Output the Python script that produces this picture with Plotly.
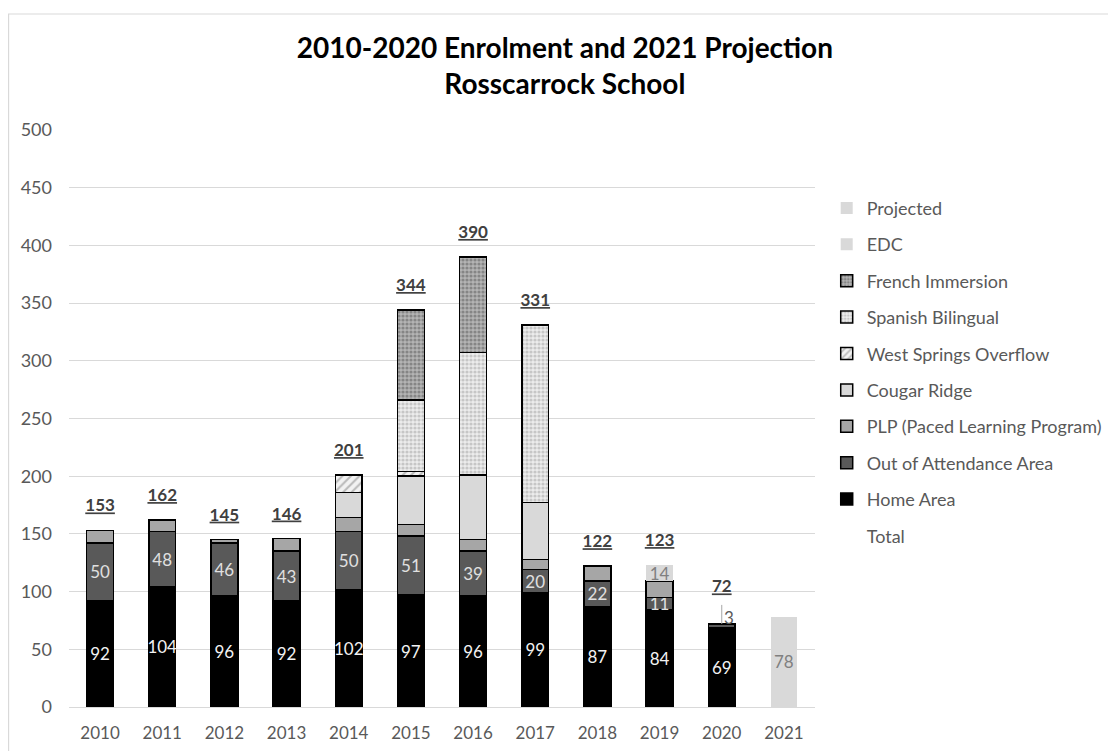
import plotly.graph_objects as go

years = [2010, 2011, 2012, 2013, 2014, 2015, 2016, 2017, 2018, 2019, 2020, 2021]
home_area = [92, 104, 96, 92, 102, 97, 96, 99, 87, 84, 69, None]
out_of_area = [50, 48, 46, 43, 50, 51, 39, 20, 22, 11, 3, None]
plp = [11, 10, 3, 11, 12, 10, 10, 9, 13, 14, None, None]
cougar_ridge = [None, None, None, None, 22, 42, 56, 49, None, None, None, None]
west_springs = [None, None, None, None, 15, 4, None, None, None, None, None, None]
spanish = [None, None, None, None, None, 62, 106, 154, None, None, None, None]
french = [None, None, None, None, None, 78, 83, None, None, None, None, None]
edc = [None, None, None, None, None, None, None, None, None, 14, None, None]
projected = [None, None, None, None, None, None, None, None, None, None, None, 78]
totals = [153, 162, 145, 146, 201, 344, 390, 331, 122, 123, 72, None]

FONT = "Lato"
GRAY_TXT = "#595959"
OUTLINE = dict(color="#000000", width=1.5)

fig = go.Figure()

def bar(name, vals, color, rank, line=OUTLINE, text=None, textcolor="#ffffff", pattern=None):
    m = dict(color=color, line=line)
    if pattern:
        m["pattern"] = pattern
    fig.add_trace(go.Bar(
        x=years, y=vals, name=name, marker=m,
        text=text, textposition="inside" if text else "none",
        insidetextanchor="middle", constraintext="none", textangle=0,
        textfont=dict(family=FONT, size=17, color=textcolor),
        legendgroup=name, legendrank=rank, hoverinfo="skip",
    ))

bar("Home Area", home_area, "#000000", 9,
    text=[str(v) if v is not None else "" for v in home_area], textcolor="#f2f2f2")
bar("Out of Attendance Area", out_of_area, "#595959", 8,
    text=[str(v) if (v is not None and v > 5) else "" for v in out_of_area], textcolor="#e0e0e0")
bar("PLP (Paced Learning Program)", plp, "#a6a6a6", 7)
bar("Cougar Ridge", cougar_ridge, "#d9d9d9", 6)
bar("West Springs Overflow", west_springs, "#f2f2f2", 5,
    pattern=dict(shape="/", fgcolor="#808080", bgcolor="#f2f2f2", size=6, solidity=0.35))
bar("Spanish Bilingual", spanish, "#e8e8e8", 4,
    pattern=dict(shape=".", fgcolor="#a0a0a0", bgcolor="#ececec", size=4, solidity=0.5))
bar("French Immersion", french, "#a0a0a0", 3,
    pattern=dict(shape=".", fgcolor="#555555", bgcolor="#b4b4b4", size=4, solidity=0.5))
bar("EDC", edc, "#d9d9d9", 2, line=dict(width=0),
    text=[str(v) if v is not None else "" for v in edc], textcolor="#808080")
bar("Projected", projected, "#d9d9d9", 1, line=dict(width=0),
    text=[str(v) if v is not None else "" for v in projected], textcolor="#808080")

# Total (legend entry with no visible symbol + labels above the bars);
# the 2020 label sits higher to leave room for the small "3" call-out
total_marker_size = [42 if y == 2020 else 22 for y in years]
fig.add_trace(go.Scatter(
    x=years, y=totals, name="Total", mode="markers+text",
    marker=dict(color="rgba(0,0,0,0)", size=total_marker_size, opacity=0,
                line=dict(width=0, color="rgba(0,0,0,0)")),
    text=[f"<b><u>{t}</u></b>" if t is not None else "" for t in totals],
    textposition="top center",
    textfont=dict(family=FONT, size=17, color="#404040"),
    legendgroup="total", legendrank=10, hoverinfo="skip",
))

# outside label for the small 2020 "Out of Attendance Area" segment
i20 = years.index(2020)
fig.add_annotation(
    x=years[i20], y=home_area[i20] + out_of_area[i20], text=str(out_of_area[i20]),
    showarrow=True, arrowhead=0, arrowwidth=1, arrowcolor="#a6a6a6",
    ax=0, ay=-19, xanchor="left", yanchor="top",
    font=dict(family=FONT, size=17, color="#595959"),
)

# chart-area border (left / top edge)
fig.add_shape(type="rect", xref="paper", yref="paper",
              x0=-0.081, x1=2, y0=-1, y1=1.201,
              line=dict(color="#d9d9d9", width=1.2), fillcolor="rgba(0,0,0,0)", layer="below")

fig.update_layout(
    width=1116, height=751,
    barmode="stack", bargap=0.57,
    plot_bgcolor="#ffffff", paper_bgcolor="#ffffff",
    margin=dict(l=61, r=309, t=122, b=52, autoexpand=False),
    font=dict(family=FONT, color=GRAY_TXT),
    title=dict(
        text="<b>2010-2020 Enrolment and 2021 Projection<br>Rosscarrock School</b>",
        x=0.499, xanchor="center", xref="container",
        y=0.934, yanchor="top", yref="container",
        font=dict(family=FONT, size=28, color="#000000"),
    ),
    legend=dict(
        x=1.0157, xanchor="left", y=0.8965, yanchor="top",
        traceorder="grouped", tracegroupgap=10,
        font=dict(family=FONT, size=18, color=GRAY_TXT),
        bgcolor="rgba(0,0,0,0)",
    ),
    showlegend=True,
    xaxis=dict(
        range=[2009.5, 2021.5], tickmode="array", tickvals=years,
        ticktext=[str(y) for y in years],
        showgrid=False, showline=True, linecolor="#d9d9d9", linewidth=1.2, zeroline=False,
        ticks="", tickfont=dict(family=FONT, size=17, color=GRAY_TXT),
        ticklabelstandoff=10, automargin=False,
    ),
    yaxis=dict(
        range=[0, 500], dtick=50, showgrid=True, gridcolor="#d9d9d9", gridwidth=1.2,
        zeroline=False, showline=False, ticks="",
        tickfont=dict(family=FONT, size=18, color=GRAY_TXT),
        ticklabelstandoff=16, automargin=False,
    ),
    uniformtext=dict(minsize=17, mode="show"),
)

fig.write_html("out.html")
